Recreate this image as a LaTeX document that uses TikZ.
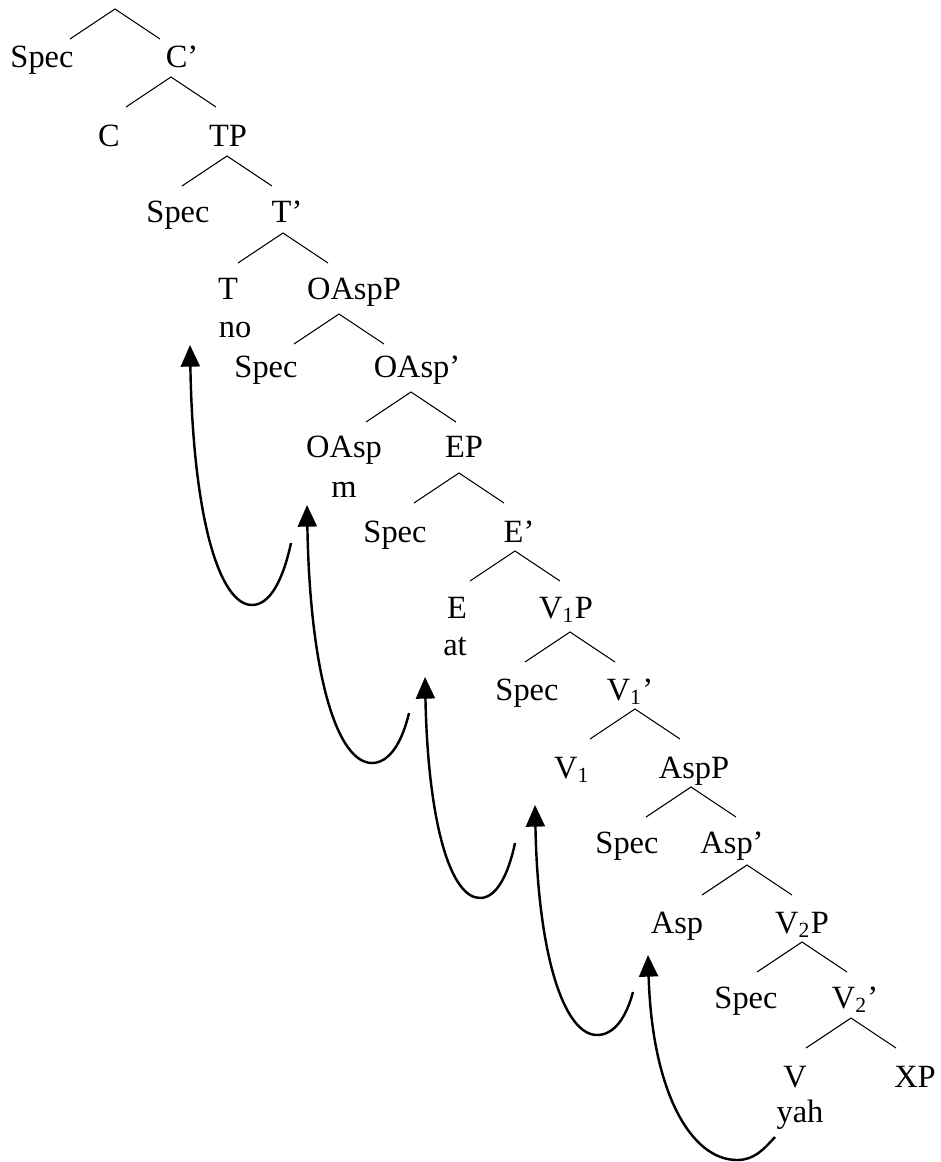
\documentclass[tikz,border=0pt,12pt]{standalone}
\usepackage{fontspec}
\setmainfont{Liberation Serif}
\usetikzlibrary{arrows.meta}
\tikzset{lbl/.style={anchor=base,inner sep=0pt}}
\newcommand{\branch}[1]{\draw (#1) +(-45,30) -- (#1) -- +(45,30);}
\begin{document}
\begin{tikzpicture}[x=0.013cm,y=-0.013cm]
		\useasboundingbox (0,0) rectangle (940,1162);

		\foreach \n/\x/\y in {0/115/9,1/171/77,2/227/156,3/283/233,4/339/314,5/411/392,6/459/473,
		    7/515/551,8/570/632,9/635/709,10/691/787,11/747/865,12/802/942,13/851/1018}{
		    \coordinate (a\n) at (\x,\y);
		    \branch{a\n}
		}

		\node[lbl] (spec1) at (42,68) {Spec};
		\node[lbl] (cbar) at (182,68) {C'};
		\node[lbl] (c) at (109,147) {C};
		\node[lbl] (tp) at (228,147) {TP};
		\node[lbl] (spec2) at (178,223) {Spec};
		\node[lbl] (tbar) at (287,223) {T'};
		\node[lbl] (t) at (228,300) {T};
		\node[lbl] (tno) at (235,338) {no};
		\node[lbl] (oaspp) at (354,300) {OAspP};
		\node[lbl] (spec3) at (266,378) {Spec};
		\node[lbl] (oaspbar) at (417,378) {OAsp'};
		\node[lbl] (oasp) at (344,458) {OAsp};
		\node[lbl] (oaspm) at (344,497) {m};
		\node[lbl] (ep) at (464,458) {EP};
		\node[lbl] (spec4) at (395,542) {Spec};
		\node[lbl] (ebar) at (519,542) {E'};
		\node[lbl] (e) at (457,618) {E};
		\node[lbl] (eat) at (455,655) {at};
		\node[lbl] (vonep) at (566,618) {V\textsubscript{1}P};
		\node[lbl] (spec5) at (527,700) {Spec};
		\node[lbl] (vonebar) at (630,700) {V\textsubscript{1}'};
		\node[lbl] (vone) at (572,778) {V\textsubscript{1}};
		\node[lbl] (aspp) at (694,778) {AspP};
		\node[lbl] (spec6) at (627,853) {Spec};
		\node[lbl] (aspbar) at (732,853) {Asp'};
		\node[lbl] (asp) at (677,933) {Asp};
		\node[lbl] (vtwop) at (802,933) {V\textsubscript{2}P};
		\node[lbl] (spec7) at (746,1008) {Spec};
		\node[lbl] (vtwobar) at (855,1008) {V\textsubscript{2}'};
		\node[lbl] (v) at (795,1087) {V};
		\node[lbl] (xp) at (915,1087) {XP};
		\node[lbl] (yah) at (800,1122) {yah};

		% head movement: yah -> Asp -> V1 -> at -> m -> no
		\coordinate (s1) at (291,543); \coordinate (b1) at (252,605); \coordinate (h1) at (190,345);
		\coordinate (s2) at (409,713); \coordinate (b2) at (372,763); \coordinate (h2) at (307,505);
		\coordinate (s3) at (515,843); \coordinate (b3) at (480,898); \coordinate (h3) at (425,677);
		\coordinate (s4) at (633,992); \coordinate (b4) at (597,1035); \coordinate (h4) at (535,805);
		\coordinate (s5) at (775,1137); \coordinate (b5) at (737,1160); \coordinate (h5) at (648,955);

		\begin{scope}[->,>={Triangle[length=8pt,width=7pt]},line width=0.9pt]
		    \draw (s1) .. controls (283,580) and (270,605) .. (b1) .. controls (220,605) and (193,520) .. (h1);
		    \draw (s2) .. controls (402,743) and (389,763) .. (b2) .. controls (338,763) and (310,678) .. (h2);
		    \draw (s3) .. controls (508,876) and (496,898) .. (b3) .. controls (451,898) and (428,825) .. (h3);
		    \draw (s4) .. controls (626,1018) and (614,1035) .. (b4) .. controls (565,1035) and (538,959) .. (h4);
		    \draw (s5) .. controls (763,1150) and (754,1160) .. (b5) .. controls (691,1160) and (652,1092) .. (h5);
		\end{scope}

	    \end{tikzpicture}
\end{document}
